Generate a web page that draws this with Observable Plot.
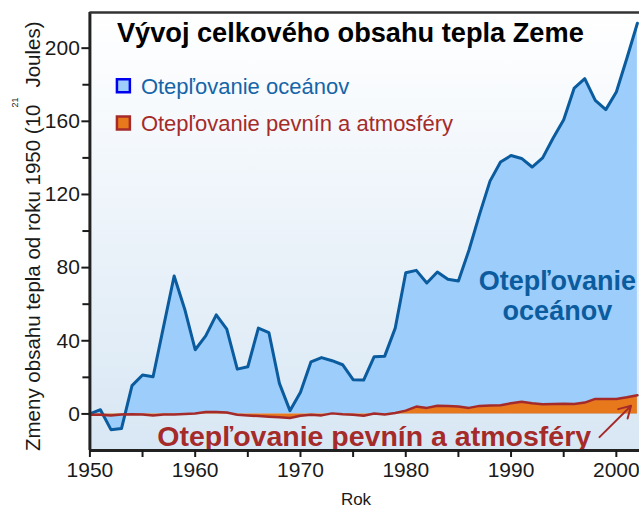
<!DOCTYPE html>
<html><head><meta charset="utf-8">
<script src="https://cdn.jsdelivr.net/npm/d3@7"></script>
<script src="https://cdn.jsdelivr.net/npm/@observablehq/plot@0.6"></script>
<style>body{margin:0;background:#fff;} svg{display:block}</style>
</head><body><div id="chart"></div>
<script>
const years = [1950,1951,1952,1953,1954,1955,1956,1957,1958,1959,
  1960,1961,1962,1963,1964,1965,1966,1967,1968,1969,
  1970,1971,1972,1973,1974,1975,1976,1977,1978,1979,
  1980,1981,1982,1983,1984,1985,1986,1987,1988,1989,
  1990,1991,1992,1993,1994,1995,1996,1997,1998,1999,
  2000,2001,2002];
const ocean = [0,2.3,-8.6,-8.0,15.5,21.3,20.3,47.9,75.4,57.4,
  35.1,42.7,54.2,46.4,24.5,25.8,46.9,44.5,16.7,1.8,
  11.8,28.5,30.8,29.1,26.9,18.7,18.5,31.3,31.6,46.9,
  77.2,78.5,71.6,77.6,73.6,72.7,89.5,109,127.3,137.8,
  141.3,139.7,135,140,150.9,160.9,178.2,183.3,171.5,166.4,
  176,194.5,213.6];
const land = [-0.5,-0.5,-0.8,-0.3,-0.2,-0.3,-0.8,-0.3,-0.3,0,
  0.2,1.0,1.1,0.8,-0.5,-0.8,-1.2,-1.5,-1.8,-2.2,
  -1.0,-0.5,-0.8,0.3,-0.2,-0.5,-1.0,0.2,-0.3,0.5,
  1.8,4.0,3.3,4.5,4.3,4.0,3.3,4.4,4.6,4.8,
  5.8,6.7,5.8,5.3,5.4,5.5,5.4,6.2,8.2,8.2,
  8.2,9.1,10.2];

const yTickLabels = [0,40,80,120,160,200];
const yMinorTicks = [20,60,100,140,180];
const xTickLabels = [1950,1960,1970,1980,1990,2000];
const xMinorTicks = [1955,1965,1975,1985,1995];

const title = "Vývoj celkového obsahu tepla Zeme";
const legendLabels = ["Otepľovanie oceánov", "Otepľovanie pevnín a atmosféry"];
const yLabelMain = "Zmeny obsahu tepla od roku 1950 (10";
const yLabelSup = "21";
const yLabelUnit = "Joules)";
const xLabel = "Rok";

const oceanLabel = [{x: 1994.4, y: 72.5, text: "Otepľovanie"}, {x: 1994.4, y: 56.0, text: "oceánov"}];
const landLabel = [{x: 1977.0, y: -12.3, text: "Otepľovanie pevnín a atmosféry"}];
const arrowData = [{x1: 1998.4, y1: -12.7, x2: 2001.4, y2: 4.5}];

const oceanLine = "#0b5c9e", oceanFill = "#9dcdfb";
const landLine = "#a52b2a", landFill = "#e8781c";
const font = "'Liberation Sans', Arial, Helvetica, sans-serif";

const data = years.map((year, i) => ({year, ocean: ocean[i], land: land[i]}));

const plot = Plot.plot({
  width: 639, height: 508,
  marginLeft: 89.4, marginRight: 0, marginTop: 12, marginBottom: 58,
  x: {domain: [1950, 2002.2]},
  y: {domain: [-20, 219.5]},
  style: {fontFamily: font, background: "transparent", color: "#1a1a1a"},
  marks: [
    Plot.frame({fill: "url(#bgGrad)", stroke: null}),
    Plot.areaY(data, {x: "year", y: "ocean", fill: oceanFill}),
    Plot.areaY(data, {x: "year", y: "land", fill: landFill}),
    Plot.lineY(data, {x: "year", y: "ocean", stroke: oceanLine, strokeWidth: 3}),
    Plot.lineY(data, {x: "year", y: "land", stroke: landLine, strokeWidth: 2.5}),
    Plot.text(oceanLabel, {x: "x", y: "y", text: "text", fontSize: 27, fontWeight: "bold", fill: oceanLine}),
    Plot.text(landLabel, {x: "x", y: "y", text: "text", fontSize: 28.5, fontWeight: "bold", fill: landLine}),
    Plot.arrow(arrowData, {x1: "x1", y1: "y1", x2: "x2", y2: "y2", stroke: landLine, strokeWidth: 2, headLength: 10}),
    Plot.text([title], {frameAnchor: "top-left", lineAnchor: "middle", dx: 27, dy: 21, text: d => d, fontSize: 27.2, fontWeight: "bold", textAnchor: "start", fill: "#000"}),
    Plot.dot([0], {frameAnchor: "top-left", dx: 33.5, dy: 73.2, symbol: "square", r: 7.3, fill: oceanFill, stroke: "#0000ee", strokeWidth: 2.5}),
    Plot.dot([0], {frameAnchor: "top-left", dx: 33.5, dy: 110.5, symbol: "square", r: 7.3, fill: landFill, stroke: landLine, strokeWidth: 2.5}),
    Plot.text([legendLabels[0]], {frameAnchor: "top-left", lineAnchor: "middle", dx: 51, dy: 74, text: d => d, fontSize: 22, textAnchor: "start", fill: "#1565a8"}),
    Plot.text([legendLabels[1]], {frameAnchor: "top-left", lineAnchor: "middle", dx: 51, dy: 111.3, text: d => d, fontSize: 22, textAnchor: "start", fill: landLine}),
    Plot.ruleX([1950], {stroke: "#222", strokeWidth: 3}),
    Plot.ruleY([-20], {stroke: "#222", strokeWidth: 3}),
    Plot.ruleY([219.5], {stroke: "#333", strokeWidth: 2.5}),
    Plot.axisY({ticks: yTickLabels, tickSize: 8, tickPadding: 2, fontSize: 21, strokeWidth: 2, label: null}),
    Plot.axisY({ticks: yMinorTicks, tickSize: 7, strokeWidth: 2, tickFormat: () => "", label: null}),
    Plot.axisX({ticks: xTickLabels, tickSize: 7, tickPadding: 5, fontSize: 21, strokeWidth: 2, tickFormat: d => String(d), label: null}),
    Plot.axisX({ticks: xMinorTicks, tickSize: 7, strokeWidth: 2, tickFormat: () => "", label: null})
  ]
});

const svg = d3.select(plot);
svg.insert("defs", ":first-child").html(
  '<linearGradient id="bgGrad" x1="0" y1="0" x2="0" y2="1">' +
  '<stop offset="0" stop-color="#ffffff"/><stop offset="1" stop-color="#d8e7f4"/></linearGradient>');

const yl = svg.append("text")
  .attr("transform", "translate(39.5,451) rotate(-90)")
  .attr("font-family", font).attr("font-size", 20.5).attr("fill", "#1a1a1a")
  .attr("text-anchor", "start");
yl.append("tspan").text(yLabelMain);
yl.append("tspan").attr("font-size", 9).attr("dy", -22).attr("dx", -3).text(yLabelSup);
yl.append("tspan").attr("dy", 22).attr("dx", 10).text(yLabelUnit);

svg.append("text").attr("x", 356).attr("y", 505).attr("text-anchor", "middle")
  .attr("font-family", font).attr("font-size", 17).attr("fill", "#1a1a1a").text(xLabel);

document.getElementById("chart").append(plot);
</script>
</body></html>
